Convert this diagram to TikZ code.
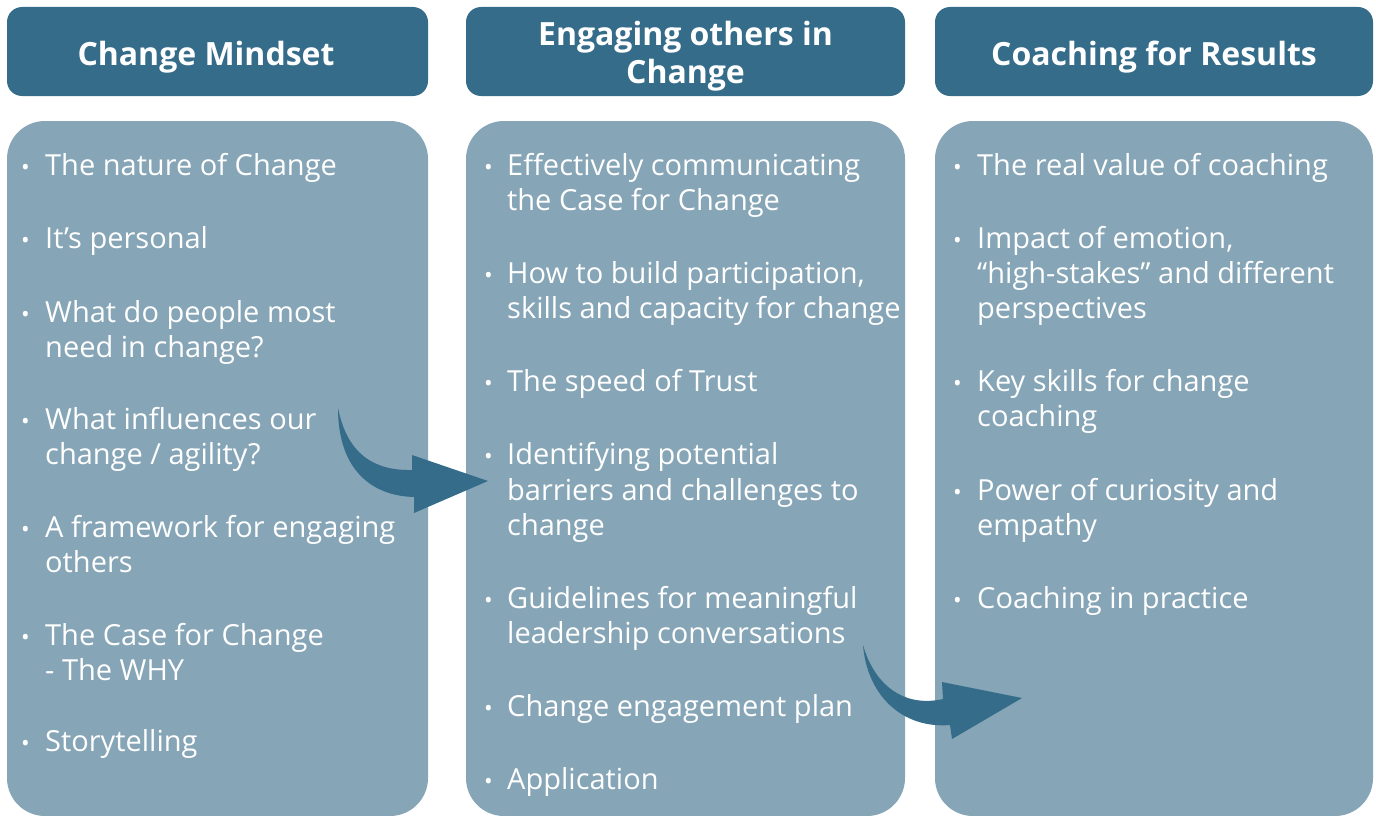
\documentclass[tikz,border=0pt]{standalone}
\usepackage{fontspec}
\setmainfont{Open Sans}
\definecolor{hdr}{HTML}{346C8A}
\definecolor{bod}{HTML}{86A5B6}
\begin{document}
\begin{tikzpicture}[x=1pt,y=-1pt,
  hdrbox/.style={fill=hdr,rounded corners=15pt},
  bodbox/.style={fill=bod,rounded corners=38pt},
  txt/.style={anchor=base west,inner sep=0pt,text=white,font=\fontsize{29}{36}\selectfont},
  bul/.style={anchor=base west,inner sep=0pt,text=white,font=\fontsize{23}{36}\selectfont},
  htxt/.style={anchor=base,inner sep=0pt,text=white,font=\fontsize{32}{38}\selectfont\bfseries},
  arr/.style={fill=hdr}]
\useasboundingbox (0,0) rectangle (1376,816);
% boxes
\fill[hdrbox] (7,7) rectangle (428,96);
\fill[hdrbox] (466,7) rectangle (905,96);
\fill[hdrbox] (935,7) rectangle (1373,96);
\fill[bodbox] (7,121) rectangle (428,816);
\fill[bodbox] (466,121) rectangle (905,816);
\fill[bodbox] (935,121) rectangle (1373,816);
% headers
\node[htxt] (h1) at (206,66) {Change Mindset};
\node[htxt] (h2a) at (685.5,46) {Engaging others in};
\node[htxt] (h2b) at (685.5,84) {Change};
\node[htxt] (h3) at (1154,66) {Coaching for Results};
% column 1
\foreach \y/\n in {175/a,248/b,322/c,429/d,537/e,645/f,751/g} \node[bul] (b1\n) at (21,\y) {•};
\node[txt] (c1a) at (45,175) {The nature of Change};
\node[txt] (c1b) at (45,248) {It’s personal};
\node[txt] (c1c1) at (45,322) {What do people most};
\node[txt] (c1c2) at (45,357) {need in change?};
\node[txt] (c1d1) at (45,429) {What influences our};
\node[txt] (c1d2) at (45,464) {change / agility?};
\node[txt] (c1e1) at (45,537) {A framework for engaging};
\node[txt] (c1e2) at (45,572) {others};
\node[txt] (c1f1) at (45,645) {The Case for Change};
\node[txt] (c1f2) at (45,680) {- The WHY};
\node[txt] (c1g) at (45,751) {Storytelling};
% column 2
\foreach \y/\n in {175/a,283/b,391/c,464/d,608/e,716/f,789/g} \node[bul] (b2\n) at (484,\y) {•};
\node[txt] (c2a1) at (507,175) {Effectively communicating};
\node[txt] (c2a2) at (507,210) {the Case for Change};
\node[txt] (c2b1) at (507,283) {How to build participation,};
\node[txt] (c2b2) at (507,318) {skills and capacity for change};
\node[txt] (c2c) at (507,391) {The speed of Trust};
\node[txt] (c2d1) at (507,464) {Identifying potential};
\node[txt] (c2d2) at (507,500) {barriers and challenges to};
\node[txt] (c2d3) at (507,535) {change};
\node[txt] (c2e1) at (507,608) {Guidelines for meaningful};
\node[txt] (c2e2) at (507,643) {leadership conversations};
\node[txt] (c2f) at (507,716) {Change engagement plan};
\node[txt] (c2g) at (507,789) {Application};
% column 3
\foreach \y/\n in {175/a,248/b,391/c,500/d,608/e} \node[bul] (b3\n) at (953,\y) {•};
\node[txt] (c3a) at (977,175) {The real value of coaching};
\node[txt] (c3b1) at (977,248) {Impact of emotion,};
\node[txt] (c3b2) at (977,283) {“high-stakes” and different};
\node[txt] (c3b3) at (977,318) {perspectives};
\node[txt] (c3c1) at (977,391) {Key skills for change};
\node[txt] (c3c2) at (977,426) {coaching};
\node[txt] (c3d1) at (977,500) {Power of curiosity and};
\node[txt] (c3d2) at (977,535) {empathy};
\node[txt] (c3e) at (977,608) {Coaching in practice};
% arrows
\fill[arr] (338,408) .. controls (346,448) and (368,471) .. (412,470) -- (412,455) -- (488,481) -- (414,513) -- (414,497)
  .. controls (372,496) and (338,470) .. (338,408) -- cycle;
\fill[arr] (863,645) .. controls (874,684) and (903,708) .. (943,699) -- (942,682) -- (1022,698) -- (952,739) -- (950,725)
  .. controls (902,729) and (867,695) .. (863,645) -- cycle;
\end{tikzpicture}
\end{document}
